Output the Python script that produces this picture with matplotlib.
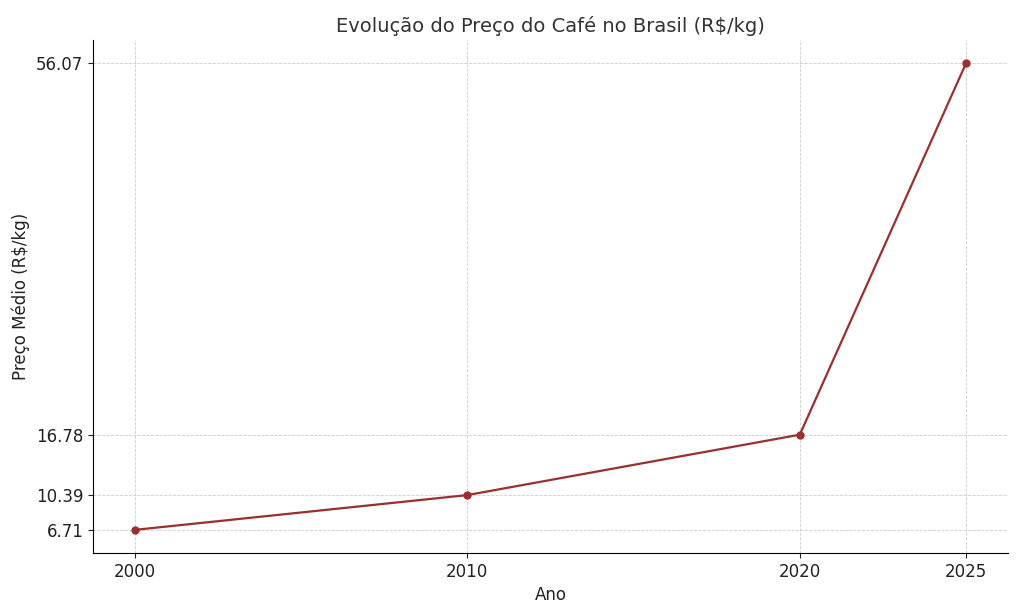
import matplotlib
matplotlib.use("Agg")
import matplotlib.pyplot as plt

anos = [2000, 2010, 2020, 2025]
precos = [6.71, 10.39, 16.78, 56.07]

fig, ax = plt.subplots(figsize=(10.24, 6.14), dpi=100)
ax.plot(anos, precos, marker='o', color='#9b2f2f', linewidth=1.6, markersize=5)
ax.set_xticks(anos)
ax.set_yticks(precos)
ax.set_yticklabels([f"{p:.2f}" for p in precos])
ax.tick_params(labelsize=12, colors='#222222')
ax.set_title("Evolução do Preço do Café no Brasil (R$/kg)", fontsize=14, color='#333333')
ax.set_xlabel("Ano", fontsize=12, color='#222222')
ax.set_ylabel("Preço Médio (R$/kg)", fontsize=12, color='#222222')
ax.grid(True, linestyle='--', linewidth=0.6, color='#cccccc')
ax.spines['top'].set_visible(False)
ax.spines['right'].set_visible(False)
fig.subplots_adjust(left=0.091, right=0.984, top=0.935, bottom=0.099)
fig.savefig("out.png", dpi=100)
